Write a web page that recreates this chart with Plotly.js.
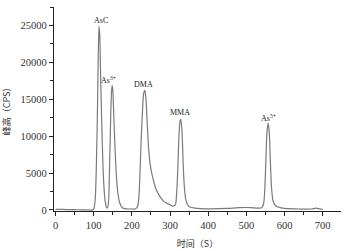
<!DOCTYPE html>
<html>
<head>
<meta charset="utf-8">
<script src="https://cdn.plot.ly/plotly-3.0.1.min.js"></script>
<style>html,body{margin:0;padding:0;background:#fff;}#chart{width:347px;height:251px;}</style>
</head>
<body>
<div id="chart"></div>
<script>
// retention time (s)
const timeS = [0,20,40,60,80,95,100,104,107,110,112,114,116,118,121,124,127,130,133,136,
  139,141,143,145,147,148.5,150,152,155,158,161,165,170,175,185,
  200,210,215,
  218,221,224,228,231,234,237,240,244,248,252,256,262,269,278,288,298,308,314,
  317,320,323,326,328,331,334,337,341,346,352,365,
  400,450,480,510,530,540,
  545,548,551,554,557,560,563,566,570,576,585,600,640,670,683,695,700];
// peak height (CPS)
const heightCPS = [80,60,40,20,0,-20,100,1500,6000,14000,21000,24900,23500,18500,12000,6500,3000,1200,400,250,
  1200,4500,9000,13500,16200,16850,16300,13800,9500,6000,3500,1700,700,300,150,
  120,150,500,
  1500,4500,9000,13500,15800,16200,15000,12000,8200,6200,5000,4100,3000,2200,1500,1000,750,500,700,
  2000,5000,9500,12000,12300,11000,7000,3500,1500,700,400,250,
  150,200,300,320,250,300,
  800,2500,6500,10500,11750,10500,6500,3000,1200,600,350,200,120,120,230,100,80];
// peak labels
const peakNames = ["AsC", "As<sup>3+</sup>", "DMA", "MMA", "As<sup>5+</sup>"];
const peakLabelX = [120, 140, 230, 326, 559];
const peakLabelY = [25700, 17600, 17050, 13250, 12450];

const annotations = peakNames.map((t, i) => ({
  x: peakLabelX[i], y: peakLabelY[i], xref: "x", yref: "y", text: t, showarrow: false,
  font: {family: "Liberation Serif", size: 8, color: "#222"}
}));

Plotly.newPlot("chart", [{
  x: timeS, y: heightCPS, type: "scatter", mode: "lines",
  line: {color: "#7a7a7a", width: 1.2, shape: "spline", smoothing: 0.8},
  hoverinfo: "skip"
}], {
  width: 347, height: 251,
  margin: {l: 54, r: 6, t: 7, b: 40},
  paper_bgcolor: "#fff", plot_bgcolor: "#fff",
  showlegend: false,
  font: {family: "Liberation Serif", size: 10, color: "#333"},
  xaxis: {
    range: [-4, 748], showgrid: false, zeroline: false,
    showline: true, linecolor: "#222", linewidth: 1.2,
    ticks: "outside", ticklen: 4, tickcolor: "#222", tickwidth: 1,
    dtick: 100, tick0: 0, tickformat: "d",
    minor: {dtick: 50, ticks: "outside", ticklen: 3, tickcolor: "#222", showgrid: false},
    tickfont: {family: "Liberation Serif", size: 10.5, color: "#333"},
    title: {text: "时间（S）", font: {family: "Noto Sans CJK SC", size: 9, color: "#333"}, standoff: 11}
  },
  yaxis: {
    range: [-150, 27500], showgrid: false, zeroline: false,
    showline: true, linecolor: "#222", linewidth: 1.2,
    ticks: "outside", ticklen: 4, tickcolor: "#222", tickwidth: 1,
    dtick: 5000, tick0: 0, tickformat: "d",
    minor: {dtick: 2500, ticks: "outside", ticklen: 3, tickcolor: "#222", showgrid: false},
    tickfont: {family: "Liberation Serif", size: 10.5, color: "#333"},
    title: {text: "峰高（CPS）", font: {family: "Noto Sans CJK SC", size: 9, color: "#333"}, standoff: 12}
  },
  annotations: annotations
}, {staticPlot: true, displayModeBar: false});
</script>
</body>
</html>
